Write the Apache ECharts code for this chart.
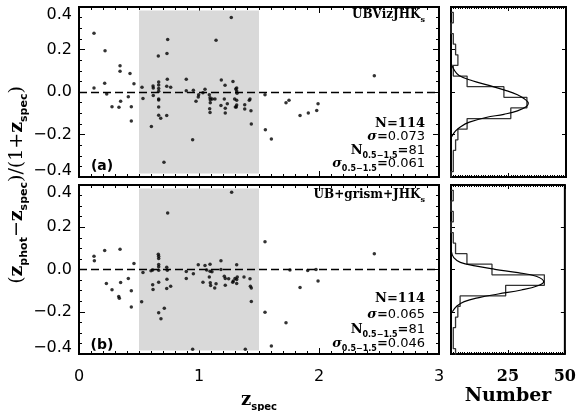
<!DOCTYPE html>
<html>
<head>
<meta charset="utf-8">
<script src="https://cdn.jsdelivr.net/npm/echarts@6/dist/echarts.min.js"></script>
<style>
  html, body { margin: 0; padding: 0; background: #fff; }
  #chart { width: 579px; height: 411px; }
</style>
</head>
<body>
<div id="chart"></div>
<script>
// ---- data ----
// panel (a): UBVizJHKs
var zspecA = [0.125, 0.125, 0.217, 0.214, 0.231, 0.275, 0.333, 0.342, 0.342, 0.347, 0.411, 0.425, 0.436, 0.436, 0.458,
  0.525, 0.533, 0.603, 0.617, 0.619, 0.619, 0.661, 0.664, 0.664, 0.664, 0.664, 0.664, 0.664, 0.664, 0.664,
  0.681, 0.708, 0.731, 0.733, 0.739, 0.736, 0.731, 0.764, 0.894, 0.894, 0.947, 0.953, 0.975, 0.994, 0.997,
  1.033, 1.050, 1.086, 1.092, 1.094, 1.094, 1.089, 1.092, 1.111, 1.133, 1.142, 1.183, 1.186, 1.211, 1.217,
  1.219, 1.219, 1.236, 1.269, 1.283, 1.297, 1.303, 1.306, 1.314, 1.314, 1.314, 1.314, 1.311, 1.317, 1.381,
  1.381, 1.425, 1.419, 1.433, 1.436, 1.550, 1.553, 1.603, 1.725, 1.750, 1.842, 1.911, 1.981, 1.992, 2.461];
var dzA = [0.277, 0.019, 0.194, 0.041, -0.009, -0.069, -0.072, 0.123, 0.098, -0.043, -0.022, 0.087, -0.069, -0.137, 0.039,
  0.022, -0.030, -0.162, 0.028, 0.019, -0.017, 0.169, 0.047, 0.033, 0.017, 0.003, -0.033, -0.038, -0.071, -0.109,
  -0.123, -0.331, -0.110, 0.181, 0.247, 0.060, 0.027, 0.022, 0.060, 0.006, -0.225, 0.008, -0.044, -0.024, -0.013,
  -0.003, 0.013, -0.013, -0.027, -0.036, -0.050, -0.079, -0.096, -0.033, -0.033, 0.244, -0.063, 0.057, -0.033, 0.032,
  -0.076, -0.099, -0.055, 0.351, 0.049, -0.033, -0.071, 0.014, 0.019, 0.005, -0.039, -0.061, -0.071, -0.006, -0.060,
  -0.080, -0.033, -0.039, -0.088, -0.150, -0.013, -0.178, -0.221, -0.050, -0.039, -0.110, -0.099, -0.087, -0.055, 0.076];

// panel (b): UB+grism+JHKs
var zspecB = [0.125, 0.128, 0.214, 0.228, 0.275, 0.331, 0.336, 0.342, 0.347, 0.411, 0.436, 0.436, 0.458,
  0.522, 0.533, 0.600, 0.614, 0.614, 0.617, 0.661, 0.664, 0.664, 0.664, 0.664, 0.664, 0.664, 0.664, 0.683,
  0.711, 0.731, 0.736, 0.733, 0.731, 0.739, 0.764, 0.894, 0.894, 0.947, 0.953, 0.994, 1.033, 1.050, 1.064,
  1.086, 1.092, 1.092, 1.094, 1.097, 1.108, 1.142, 1.131, 1.183, 1.183, 1.211, 1.219, 1.219, 1.247, 1.272,
  1.281, 1.286, 1.300, 1.314, 1.314, 1.314, 1.319, 1.375, 1.386, 1.425, 1.428, 1.436, 1.436,
  1.550, 1.550, 1.603, 1.725, 1.758, 1.842, 1.906, 1.975, 1.992, 2.461];
var dzB = [0.063, 0.041, 0.090, -0.066, -0.096, -0.128, -0.136, 0.096, -0.061, -0.043, -0.101, -0.177, 0.028,
  -0.153, -0.014, -0.006, -0.002, -0.072, -0.095, 0.072, 0.063, 0.052, 0.024, 0.013, -0.003, -0.060, -0.205, -0.233,
  -0.183, 0.011, -0.003, -0.046, -0.090, 0.268, -0.079, -0.009, -0.043, -0.378, -0.020, 0.022, -0.060, 0.019, -0.002,
  -0.035, 0.025, -0.008, -0.063, -0.076, -0.011, -0.068, -0.088, 0.041, 0.000, -0.032, -0.043, -0.074, -0.044, 0.366,
  -0.060, -0.054, -0.043, 0.022, -0.047, -0.066, -0.036, -0.036, -0.377, -0.044, -0.079, -0.088, -0.151,
  0.131, -0.202, -0.362, -0.252, -0.002, -0.085, -0.005, 0.000, -0.054, 0.074];

// histograms (bin width 0.05)
var binCenters = [0.35, 0.30, 0.25, 0.20, 0.15, 0.10, 0.05, 0.00, -0.05, -0.10, -0.15, -0.20, -0.25, -0.30, -0.35, -0.40];
var histA = [1, 0, 1, 2, 3, 1, 7, 23, 33, 26, 7, 3, 2, 1, 1, 0];
var histB = [1, 0, 1, 0, 1, 2, 7, 18, 41, 24, 4, 3, 2, 1, 1, 2];

// fitted gaussians, traced point by point
var gaussCountA = [0.0, 1.3, 3.5, 9.3, 16.5, 23.0, 28.9, 32.5, 33.6, 32.8, 28.9, 23.0, 15.2, 8.0, 4.2, 2.0, 0.3];
var gaussDzA = [0.137, 0.105, 0.078, 0.053, 0.031, 0.010, -0.013, -0.037, -0.053, -0.068, -0.089, -0.105, -0.120, -0.142, -0.163, -0.183, -0.210];
var gaussCountB = [0.2, 1.2, 4.1, 10.6, 19.3, 29.4, 37.4, 40.7, 38.1, 30.9, 20.7, 12.3, 5.8, 2.6, 0.6];
var gaussDzB = [0.084, 0.056, 0.034, 0.017, 0.001, -0.015, -0.032, -0.058, -0.077, -0.097, -0.116, -0.133, -0.152, -0.173, -0.200];

var grayBand = [0.5, 1.5, -0.383, 0.383];
var xTicks = [0, 1, 2, 3];
var yTicks = [-0.4, -0.2, 0.0, 0.2, 0.4];
var numTicks = [25, 50];

var SERIF = '"DejaVu Serif", serif';
var SANS = '"DejaVu Sans", sans-serif';

function zip(a, b) { return a.map(function (v, i) { return [v, b[i]]; }); }
function steps(counts) {
  var half = 0.025, pts = [[0, binCenters[0] + half]];
  binCenters.forEach(function (c, i) {
    pts.push([counts[i], c + half]);
    pts.push([counts[i], c - half]);
  });
  pts.push([0, binCenters[binCenters.length - 1] - half]);
  return pts;
}
// end labels sit inside the frame, like the original
function fmtY(v) {
  var t = yTicks.find(function (k) { return Math.abs(k - v) < 1e-6; });
  if (t === undefined) return '';
  var s = t.toFixed(1).replace('-', '\u2212');
  if (t === yTicks[yTicks.length - 1]) return '{hi|' + s + '}';
  if (t === yTicks[0]) return '{lo|' + s + '}';
  return s;
}

var myChart = echarts.init(document.getElementById('chart'), null, { renderer: 'canvas' });

var grids = [
  { left: 79, top: 7, width: 360, height: 170 },
  { left: 79, top: 185, width: 360, height: 169 },
  { left: 451, top: 7, width: 115, height: 170 },
  { left: 451, top: 185, width: 115, height: 169 }
].map(function (g) {
  return Object.assign({ show: true, borderColor: '#000', borderWidth: 2, backgroundColor: 'transparent' }, g);
});

function zAxis(grid, pos, labels) {
  return {
    type: 'value', gridIndex: grid, position: pos, min: 0, max: 3, interval: 1,
    axisLine: { show: false, onZero: false }, splitLine: { show: false },
    axisTick: { show: true, inside: true, length: 6, lineStyle: { color: '#000', width: 1 } },
    minorTick: { show: true, splitNumber: 10, length: 3, lineStyle: { color: '#000', width: 1 } },
    axisLabel: {
      show: labels, margin: 15, color: '#000', fontFamily: SANS, fontSize: 16,
      formatter: function (v) { return xTicks.indexOf(v) >= 0 ? String(v) : ''; }
    }
  };
}
function nAxis(grid, pos, labels) {
  return {
    type: 'value', gridIndex: grid, position: pos, min: 0, max: 50, interval: 25,
    axisLine: { show: false, onZero: false }, splitLine: { show: false },
    axisTick: { show: true, inside: true, length: 4, lineStyle: { color: '#000', width: 1 } },
    minorTick: { show: true, splitNumber: 25, length: 2, lineStyle: { color: '#000', width: 1 } },
    axisLabel: {
      show: labels, margin: 15, color: '#000', fontFamily: SERIF, fontWeight: 'bold', fontSize: 16,
      formatter: function (v) { return numTicks.indexOf(v) >= 0 ? String(v) : ''; }
    }
  };
}
function dzAxis(grid, pos, labels, minor) {
  return {
    type: 'value', gridIndex: grid, position: pos, min: -0.4, max: 0.4, interval: 0.2,
    axisLine: { show: false, onZero: false }, splitLine: { show: false },
    axisTick: { show: true, inside: true, length: minor ? 6 : 4, lineStyle: { color: '#000', width: 1 } },
    minorTick: { show: minor, splitNumber: 4, length: 3, lineStyle: { color: '#000', width: 1 } },
    axisLabel: {
      show: labels, margin: 7, color: '#000', fontFamily: SANS, fontSize: 16, formatter: fmtY,
      rich: {
        hi: { fontFamily: SANS, fontSize: 16, color: '#000', padding: [15, 0, 0, 0] },
        lo: { fontFamily: SANS, fontSize: 16, color: '#000', padding: [0, 0, 12, 0] }
      }
    }
  };
}

var dashed = {
  silent: true, symbol: ['none', 'none'], label: { show: false },
  lineStyle: { color: '#000', width: 1.4, type: [8, 4] },
  data: [{ yAxis: 0 }]
};
var band = {
  silent: true, itemStyle: { color: '#d9d9d9' },
  data: [[{ xAxis: grayBand[0], yAxis: grayBand[3] }, { xAxis: grayBand[1], yAxis: grayBand[2] }]]
};

function rt(text, x, y, rich, align) {
  return { type: 'text', x: x, y: y, style: { text: text, align: align || 'right', verticalAlign: 'middle', rich: rich, fill: '#000' } };
}
var statRich = {
  n: { fontFamily: SERIF, fontWeight: 'bold', fontSize: 13, lineHeight: 14 },
  s: { fontFamily: SERIF, fontStyle: 'italic', fontWeight: 'bold', fontSize: 13, lineHeight: 14 },
  v: { fontFamily: SANS, fontSize: 13, lineHeight: 14 },
  sub: { fontFamily: SANS, fontWeight: 'bold', fontSize: 8, verticalAlign: 'bottom', lineHeight: 8, padding: [0, 0, -2, 0] }
};
var labRich = {
  m: { fontFamily: SERIF, fontWeight: 'bold', fontSize: 12, lineHeight: 13 },
  sub: { fontFamily: SERIF, fontWeight: 'bold', fontSize: 8, verticalAlign: 'bottom', lineHeight: 8, padding: [0, 0, -2, 0] }
};
var titleRich = {
  p: { fontFamily: SERIF, fontSize: 19, lineHeight: 22 },
  z: { fontFamily: SERIF, fontWeight: 'bold', fontSize: 19, lineHeight: 22 },
  sub: { fontFamily: SANS, fontWeight: 'bold', fontSize: 11, verticalAlign: 'bottom', lineHeight: 11, padding: [0, 0, -2, 0] }
};
var xTitleRich = {
  z: { fontFamily: SERIF, fontWeight: 'bold', fontSize: 18, lineHeight: 20 },
  sub: { fontFamily: SANS, fontWeight: 'bold', fontSize: 10, verticalAlign: 'bottom', lineHeight: 10, padding: [0, 0, -2, 0] }
};

var option = {
  animation: false,
  backgroundColor: '#fff',
  grid: grids,
  xAxis: [
    zAxis(0, 'bottom', false), zAxis(0, 'top', false),
    zAxis(1, 'bottom', true), zAxis(1, 'top', false),
    nAxis(2, 'bottom', false), nAxis(2, 'top', false),
    nAxis(3, 'bottom', true), nAxis(3, 'top', false)
  ],
  yAxis: [
    dzAxis(0, 'left', true, true), dzAxis(0, 'right', false, true),
    dzAxis(1, 'left', true, true), dzAxis(1, 'right', false, true),
    dzAxis(2, 'left', false, false), dzAxis(2, 'right', false, false),
    dzAxis(3, 'left', false, false), dzAxis(3, 'right', false, false)
  ],
  series: [
    {
      type: 'scatter', xAxisIndex: 0, yAxisIndex: 0, data: zip(zspecA, dzA),
      symbol: 'circle', symbolSize: 3.5, itemStyle: { color: '#000' },
      markArea: band, markLine: dashed
    },
    {
      type: 'scatter', xAxisIndex: 2, yAxisIndex: 2, data: zip(zspecB, dzB),
      symbol: 'circle', symbolSize: 3.5, itemStyle: { color: '#000' },
      markArea: band, markLine: dashed
    },
    {
      type: 'line', xAxisIndex: 4, yAxisIndex: 4, data: steps(histA), showSymbol: false,
      lineStyle: { color: '#333', width: 1.3 }
    },
    {
      type: 'line', xAxisIndex: 4, yAxisIndex: 4, data: zip(gaussCountA, gaussDzA), showSymbol: false,
      smooth: 0.4, lineStyle: { color: '#000', width: 1.2 }
    },
    {
      type: 'line', xAxisIndex: 6, yAxisIndex: 6, data: steps(histB), showSymbol: false,
      lineStyle: { color: '#333', width: 1.3 }
    },
    {
      type: 'line', xAxisIndex: 6, yAxisIndex: 6, data: zip(gaussCountB, gaussDzB), showSymbol: false,
      smooth: 0.4, lineStyle: { color: '#000', width: 1.2 }
    }
  ],
  graphic: [
    rt('{m|UBVizJHK}{sub|s}', 425, 15, labRich),
    rt('{n|N=114}', 425, 124, statRich),
    rt('{s|\u03c3}{n|=}{v|0.073}', 425, 137, statRich),
    rt('{n|N}{sub|0.5\u22121.5}{n|=}{v|81}', 425, 151, statRich),
    rt('{s|\u03c3}{sub|0.5\u22121.5}{n|=}{v|0.061}', 425, 164, statRich),
    rt('{m|UB+grism+JHK}{sub|s}', 425, 195, labRich),
    rt('{n|N=114}', 425, 299, statRich),
    rt('{s|\u03c3}{n|=}{v|0.065}', 425, 315, statRich),
    rt('{n|N}{sub|0.5\u22121.5}{n|=}{v|81}', 425, 330, statRich),
    rt('{s|\u03c3}{sub|0.5\u22121.5}{n|=}{v|0.046}', 425, 344, statRich),
    rt('(a)', 102, 166, null, 'center'),
    rt('(b)', 102, 345, null, 'center'),
    {
      type: 'text', x: 17, y: 185, rotation: Math.PI / 2,
      style: {
        text: '{p|(}{z|z}{sub|phot}{p|\u2212}{z|z}{sub|spec}{p|)/(1+}{z|z}{sub|spec}{p|)}',
        align: 'center', verticalAlign: 'middle', rich: titleRich, fill: '#000'
      }
    },
    rt('{z|z}{sub|spec}', 259, 400, xTitleRich, 'center'),
    {
      type: 'text', x: 508, y: 396,
      style: { text: 'Number', align: 'center', verticalAlign: 'middle', fontFamily: SERIF, fontWeight: 'bold', fontSize: 19, fill: '#000' }
    }
  ]
};
option.graphic.forEach(function (g) {
  if (g.style && !g.style.rich) {
    if (!g.style.fontFamily) { g.style.fontFamily = SANS; g.style.fontWeight = 'bold'; g.style.fontSize = 14; }
  }
});
myChart.setOption(option);
</script>
</body>
</html>
